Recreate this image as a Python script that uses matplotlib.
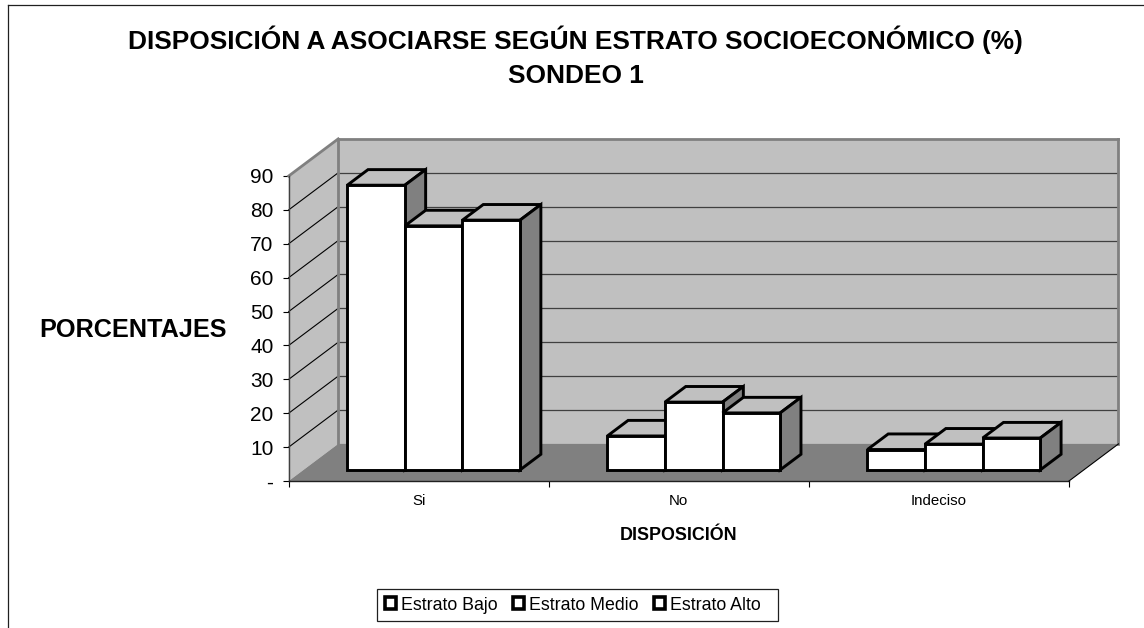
import matplotlib
matplotlib.use("Agg")
import matplotlib.pyplot as plt
from matplotlib.patches import Patch, Polygon

plt.rcParams["font.family"] = ["Liberation Sans", "DejaVu Sans"]

categories = ["Si", "No", "Indeciso"]
series_names = ["Estrato Bajo", "Estrato Medio", "Estrato Alto  "]
estrato_bajo = [84, 10, 6]
estrato_medio = [72, 20, 7.6]
estrato_alto = [73.7, 16.8, 9.4]
y_ticks = [0, 10, 20, 30, 40, 50, 60, 70, 80, 90]
y_tick_labels = ["-", "10", "20", "30", "40", "50", "60", "70", "80", "90"]

W, H = 1144, 628
WALL = "#c0c0c0"
FLOOR = "#808080"
GRID = "#404040"

# fake 3D: shear of the chart box, in data units
DEPTH_X = 0.1903
DEPTH_Y = 10.95
BAR_START = 0.30
BAR_DEPTH = 0.42
BAR_OFFSET = 0.168
BAR_WIDTH = 0.2215
BAR_LW = 2.1


def shear(x, y, d):
    return (x + DEPTH_X * d, y + DEPTH_Y * d)


def poly(ax, points, face, edge="none", lw=0.0, zorder=1):
    ax.add_patch(
        Polygon(
            [shear(*p) for p in points],
            closed=True,
            facecolor=face,
            edgecolor=edge,
            linewidth=lw,
            joinstyle="miter",
            clip_on=False,
            zorder=zorder,
        )
    )


def line(ax, p0, p1, color, lw, zorder=2):
    a, b = shear(*p0), shear(*p1)
    ax.plot([a[0], b[0]], [a[1], b[1]], color=color, lw=lw, clip_on=False,
            solid_capstyle="projecting", zorder=zorder)


def draw_bar(ax, x0, x1, value, zorder):
    d0, d1 = BAR_START, BAR_START + BAR_DEPTH
    poly(ax, [(x0, value, d0), (x1, value, d0), (x1, value, d1), (x0, value, d1)],
         WALL, "black", BAR_LW, zorder)
    poly(ax, [(x1, 0, d0), (x1, value, d0), (x1, value, d1), (x1, 0, d1)],
         FLOOR, "black", BAR_LW, zorder)
    poly(ax, [(x0, 0, d0), (x1, 0, d0), (x1, value, d0), (x0, value, d0)],
         "white", "black", BAR_LW, zorder)


def label(x, y, text, size):
    # x, y in pixels from the top left, y is the baseline
    fig.text(x / W, 1 - y / H, text, ha="center", va="baseline",
             fontsize=size, fontweight="bold")


fig = plt.figure(figsize=(W / 100, H / 100), dpi=100, facecolor="white")
left, right, top, bottom = 288.7, 1069, 176, 481
ax = fig.add_axes([left / W, 1 - bottom / H, (right - left) / W, (bottom - top) / H])
ax.set_xlim(0, 3)
ax.set_ylim(0, 90)
ax.patch.set_visible(False)
for s in ax.spines.values():
    s.set_visible(False)

# walls and floor
poly(ax, [(0, 0, 1), (3, 0, 1), (3, 90, 1), (0, 90, 1)], WALL)
poly(ax, [(0, 0, 0), (0, 90, 0), (0, 90, 1), (0, 0, 1)], WALL)
poly(ax, [(0, 0, 0), (3, 0, 0), (3, 0, 1), (0, 0, 1)], FLOOR)

for v in y_ticks[1:-1]:
    line(ax, (0, v, 1), (3, v, 1), GRID, 0.9)
    line(ax, (0, v, 0), (0, v, 1), "black", 0.8)
line(ax, (0, 90, 1), (3, 90, 1), FLOOR, 2.0, 3)
line(ax, (3, 0, 1), (3, 90, 1), FLOOR, 2.0, 3)
line(ax, (0, 0, 1), (0, 90, 1), FLOOR, 2.0, 3)
line(ax, (0, 90, 0), (0, 90, 1), FLOOR, 2.0, 3)
line(ax, (0, 0, 0), (0, 90, 0), GRID, 1.0, 3)
line(ax, (0, 0, 0), (3, 0, 0), "#202020", 1.0, 3)
line(ax, (3, 0, 0), (3, 0, 1), "black", 0.8, 3)

# bars
z = 5
for i in range(len(categories)):
    for j, values in enumerate([estrato_bajo, estrato_medio, estrato_alto]):
        x0 = i + BAR_OFFSET + j * BAR_WIDTH
        draw_bar(ax, x0, x0 + BAR_WIDTH, values[i], z)
        z += 1

# axis ticks and labels
ax.set_yticks(y_ticks, y_tick_labels, fontsize=15, color="black")
ax.tick_params(axis="y", length=4, width=0.8, pad=7)
ax.set_xticks([0, 1, 2, 3], [""] * 4)
ax.tick_params(axis="x", which="major", length=4.5, width=0.8)
ax.set_xticks([0.5, 1.5, 2.5], categories, minor=True, fontsize=10.8)
ax.tick_params(axis="x", which="minor", length=0, pad=9.5)

label(575.7, 49, "DISPOSICIÓN A ASOCIARSE SEGÚN ESTRATO SOCIOECONÓMICO (%)", 18.87)
label(575.7, 83, "SONDEO 1", 18.87)
label(133.3, 336.7, "PORCENTAJES", 18.2)
label(678.3, 540, "DISPOSICIÓN", 12.85)

# chart frame: only top and left show in the crop
fig.add_artist(plt.Line2D([8 / W, 8 / W], [0, 1 - 5 / H], color="#202020", lw=0.9))
fig.add_artist(plt.Line2D([8 / W, 1], [1 - 5 / H, 1 - 5 / H], color="#202020", lw=0.9))

handles = [Patch(facecolor="white", edgecolor="black", linewidth=2.6, label=n)
           for n in series_names]
leg = fig.legend(
    handles=handles,
    loc="center",
    bbox_to_anchor=(577.5 / W, 1 - 605 / H),
    ncols=3,
    fontsize=12.8,
    frameon=True,
    fancybox=False,
    framealpha=1,
    edgecolor="#202020",
    handlelength=0.62,
    handleheight=0.62,
    handletextpad=0.3,
    columnspacing=0.85,
    borderpad=0.4,
    borderaxespad=0,
)
leg.get_frame().set_linewidth(0.9)

fig.savefig("out.png", dpi=100)
